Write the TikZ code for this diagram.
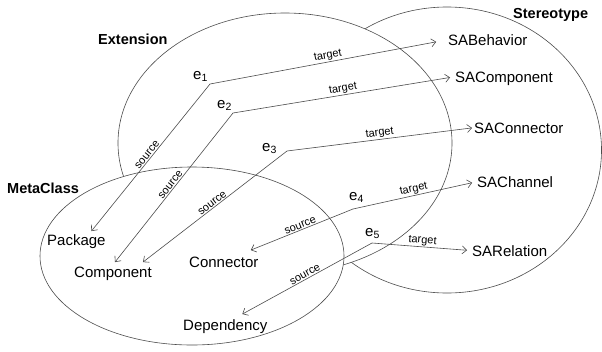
\documentclass[tikz,border=0pt]{standalone}
\usepackage{fontspec}
\setmainfont{Liberation Sans}
\usetikzlibrary{arrows.meta}
\begin{document}
\begin{tikzpicture}[x=1bp,y=-1bp,
  lin/.style={draw=black!70, line width=0.6bp},
  arr/.style={lin, -{Straight Barb[length=4.5bp,width=8bp]}},
  ttl/.style={font=\fontsize{14.5bp}{16bp}\selectfont\bfseries, inner sep=0, anchor=base west},
  cls/.style={font=\fontsize{15bp}{17bp}\selectfont, inner sep=0, anchor=base west, text height=10.7bp, text depth=0bp},
  lbl/.style={font=\fontsize{11bp}{12bp}\selectfont, sloped, above, inner sep=1bp, midway},
  elab/.style={font=\fontsize{15bp}{17bp}\selectfont, inner sep=0, anchor=base west},
  setshape/.style={draw=black!70, line width=0.6bp, fill=white}
]
\useasboundingbox (0,0) rectangle (602,351);
% sets (drawn in order so that later ones hide earlier ones)
\path[setshape] (447,150) ellipse [x radius=154.5bp, y radius=143bp];
\path[setshape] (285,143) ellipse [x radius=167bp, y radius=130bp];
\path[setshape] (192,256) ellipse [x radius=152bp, y radius=89bp];

% titles
\node[ttl] (ext) at (98,44) {Extension};
\node[ttl] (ste) at (513,18.5) {Stereotype};
\node[ttl] (meta) at (7,193) {MetaClass};

% stereotypes
\node[cls] (sabeh) at (448,45) {SABehavior};
\node[cls] (sacomp) at (455,82) {SAComponent};
\node[cls] (saconn) at (474,133) {SAConnector};
\node[cls] (sachan) at (477,187) {SAChannel};
\node[cls] (sarel) at (472,256) {SARelation};

% metaclasses
\node[cls] (pkg) at (47,245) {Package};
\node[cls] (comp) at (74,277) {Component};
\node[cls] (conn) at (189,267) {Connector};
\node[cls] (dep) at (183,330) {Dependency};

% extension corners
\coordinate (c1) at (210,84);
\coordinate (c2) at (233,113);
\coordinate (c3) at (287,151);
\coordinate (c4) at (353,209);
\coordinate (c5) at (372,243);

\node[elab] (e1) at (193,79) {e\textsubscript{1}};
\node[elab] (e2) at (217,108) {e\textsubscript{2}};
\node[elab] (e3) at (262,151) {e\textsubscript{3}};
\node[elab] (e4) at (349,200) {e\textsubscript{4}};
\node[elab] (e5) at (365,236) {e\textsubscript{5}};

% targets
\draw[arr, shorten >=12bp] (c1) -- node[lbl]{target} (sabeh.west);
\draw[arr, shorten >=5bp] (c2) -- node[lbl]{target} (sacomp.west);
\draw[arr, shorten >=2bp] (c3) -- node[lbl]{target} (saconn.west);
\draw[arr, shorten >=5bp] (c4) -- node[lbl]{target} (sachan.west);
\draw[arr, shorten >=5bp] (c5) -- node[lbl]{target} (sarel.west);

% sources
\draw[arr] (c1) -- node[lbl]{source} ([xshift=15bp,yshift=3bp]pkg.north);
\draw[arr] (c2) -- node[lbl]{source} ([xshift=2bp,yshift=4bp]comp.north);
\draw[arr] (c3) -- node[lbl]{source} ([xshift=30bp,yshift=4bp]comp.north);
\draw[arr] (c4) -- node[lbl]{source} ([xshift=27bp,yshift=6bp]conn.north);
\draw[arr] (c5) -- node[lbl]{source} ([xshift=17bp,yshift=5bp]dep.north);
\end{tikzpicture}
\end{document}
